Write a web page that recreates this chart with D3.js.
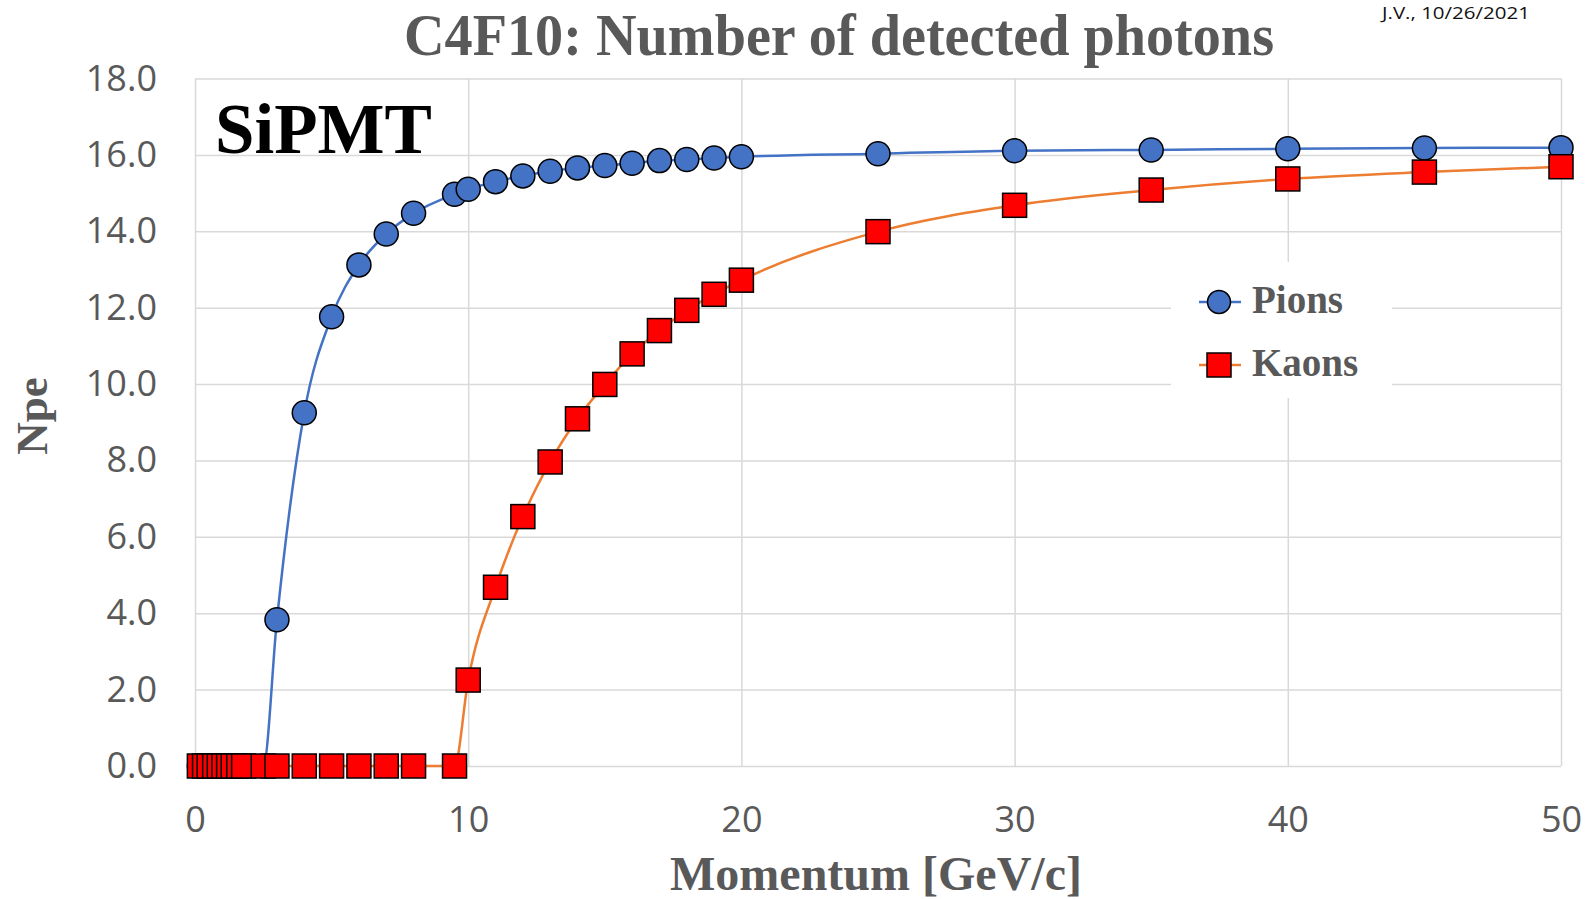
<!DOCTYPE html>
<html>
<head>
<meta charset="utf-8">
<script src="https://cdn.jsdelivr.net/npm/d3@7"></script>
<style>
  html, body { margin: 0; padding: 0; background: #fff; }
  svg { display: block; }
</style>
</head>
<body>
<svg id="chart" width="1585" height="899"></svg>
<script>
// ---- data ----
const momentum = [0.16, 0.35, 0.52, 0.72, 0.89, 1.06, 1.23, 1.40, 1.60, 1.78,
  2.5, 3, 4, 5, 6, 7, 8, 9.5, 10, 11, 12, 13, 14, 15, 16, 17, 18, 19, 20,
  25, 30, 35, 40, 45, 50];
const pions = [0, 0, 0, 0, 0, 0, 0, 0, 0, 0,
  0, 3.83, 9.25, 11.76, 13.12, 13.93, 14.47, 14.97, 15.10, 15.30, 15.45, 15.57, 15.66, 15.72, 15.78, 15.85, 15.88, 15.92, 15.95,
  16.03, 16.11, 16.13, 16.16, 16.18, 16.19];
const kaons = [0, 0, 0, 0, 0, 0, 0, 0, 0, 0,
  0, 0, 0, 0, 0, 0, 0, 0, 2.25, 4.68, 6.53, 7.96, 9.09, 9.99, 10.79, 11.40, 11.93, 12.35, 12.72,
  13.99, 14.68, 15.08, 15.37, 15.55, 15.69];
const seriesNames = ["Pions", "Kaons"];
const xTicks = [0, 10, 20, 30, 40, 50];
const yTicks = [0, 2, 4, 6, 8, 10, 12, 14, 16, 18];
const titleText = "C4F10: Number of detected photons";
const xLabel = "Momentum [GeV/c]";
const yLabel = "Npe";
const tagText = "SiPMT";
const dateText = "J.V., 10/26/2021";

// ---- layout ----
const svg = d3.select("#chart");
const plotL = 195, plotR = 1561, plotT = 78.5, plotB = 766;
const x = d3.scaleLinear().domain([0, 50]).range([plotL, plotR]);
const y = d3.scaleLinear().domain([0, 18]).range([plotB, plotT]);
const gray = "#595959";
const gridColor = "#d9d9d9";
const serif = "'Liberation Serif', 'Times New Roman', serif";
const sans = "'Open Sans', 'Liberation Sans', sans-serif";

// gridlines
const gx = svg.append("g").attr("transform", `translate(0,${plotB})`)
  .call(d3.axisBottom(x).tickValues(xTicks).tickSize(-(plotB - plotT)).tickFormat(""));
gx.select(".domain").remove();
gx.selectAll(".tick line").attr("stroke", gridColor).attr("stroke-width", 1.5);

const gy = svg.append("g").attr("transform", `translate(${plotL},0)`)
  .call(d3.axisLeft(y).tickValues(yTicks).tickSize(-(plotR - plotL)).tickFormat(""));
gy.select(".domain").remove();
gy.selectAll(".tick line").attr("stroke", gridColor).attr("stroke-width", 1.5);

// tick labels
const xl = svg.append("g").attr("transform", `translate(0,${plotB})`)
  .call(d3.axisBottom(x).tickValues(xTicks).tickSize(0).tickPadding(40).tickFormat(d3.format("d")));
xl.select(".domain").remove();
xl.selectAll("text").attr("font-family", sans).attr("font-size", 36).attr("fill", gray);

const yl = svg.append("g").attr("transform", `translate(${plotL},0)`)
  .call(d3.axisLeft(y).tickValues(yTicks).tickSize(0).tickPadding(38).tickFormat(d3.format(".1f")));
yl.select(".domain").remove();
yl.selectAll("text").attr("font-family", sans).attr("font-size", 36).attr("fill", gray);

// legend background (white box hiding gridlines)
svg.append("rect").attr("x", 1171).attr("y", 262).attr("width", 221).attr("height", 136).attr("fill", "#fff");

// series
const series = [
  { name: seriesNames[0], values: pions, line: "#4472C4", fill: "#4472C4", shape: "circle" },
  { name: seriesNames[1], values: kaons, line: "#ED7D31", fill: "#FF0000", shape: "square" }
];
const lineGen = d3.line()
  .x(d => x(d[0])).y(d => y(d[1]))
  .curve(d3.curveMonotoneX);

series.forEach(s => {
  const pts = momentum.map((m, i) => [m, s.values[i]]);
  svg.append("path").datum(pts)
    .attr("d", lineGen).attr("fill", "none")
    .attr("stroke", s.line).attr("stroke-width", 2.5);
  const g = svg.append("g");
  if (s.shape === "circle") {
    g.selectAll("circle").data(pts).join("circle")
      .attr("cx", d => x(d[0])).attr("cy", d => y(d[1])).attr("r", 12)
      .attr("fill", s.fill).attr("stroke", "#000").attr("stroke-width", 1.5);
  } else {
    g.selectAll("rect").data(pts).join("rect")
      .attr("x", d => x(d[0]) - 12).attr("y", d => y(d[1]) - 12)
      .attr("width", 24).attr("height", 24)
      .attr("fill", s.fill).attr("stroke", "#000").attr("stroke-width", 1.5);
  }
});

// legend
const legY = [302, 365];
series.forEach((s, i) => {
  const g = svg.append("g");
  g.append("line").attr("x1", 1199).attr("x2", 1241).attr("y1", legY[i]).attr("y2", legY[i])
    .attr("stroke", s.line).attr("stroke-width", 2.5);
  if (s.shape === "circle") {
    g.append("circle").attr("cx", 1219).attr("cy", legY[i]).attr("r", 11.5)
      .attr("fill", s.fill).attr("stroke", "#000").attr("stroke-width", 1.5);
  } else {
    g.append("rect").attr("x", 1219 - 12).attr("y", legY[i] - 12).attr("width", 24).attr("height", 24)
      .attr("fill", s.fill).attr("stroke", "#000").attr("stroke-width", 1.5);
  }
  g.append("text").attr("x", 1252).attr("y", legY[i] + 11)
    .attr("font-family", serif).attr("font-weight", "bold").attr("font-size", 39)
    .attr("fill", gray).text(s.name);
});

// titles and annotations
svg.append("text").attr("x", 839).attr("y", 55).attr("text-anchor", "middle")
  .attr("font-family", serif).attr("font-weight", "bold").attr("font-size", 60)
  .attr("fill", gray).attr("textLength", 870).attr("lengthAdjust", "spacingAndGlyphs")
  .text(titleText);

svg.append("text").attr("x", 1382).attr("y", 19)
  .attr("font-family", sans).attr("font-size", 17).attr("fill", "#111")
  .attr("textLength", 148).attr("lengthAdjust", "spacingAndGlyphs")
  .text(dateText);

svg.append("text").attr("x", 215).attr("y", 153)
  .attr("font-family", serif).attr("font-weight", "bold").attr("font-size", 71)
  .attr("fill", "#000").text(tagText);

svg.append("text").attr("x", 876).attr("y", 890).attr("text-anchor", "middle")
  .attr("font-family", serif).attr("font-weight", "bold").attr("font-size", 48)
  .attr("fill", gray).text(xLabel);

svg.append("text").attr("transform", "translate(47,416) rotate(-90)").attr("text-anchor", "middle")
  .attr("font-family", serif).attr("font-weight", "bold").attr("font-size", 45)
  .attr("fill", gray).text(yLabel);
</script>
</body>
</html>
